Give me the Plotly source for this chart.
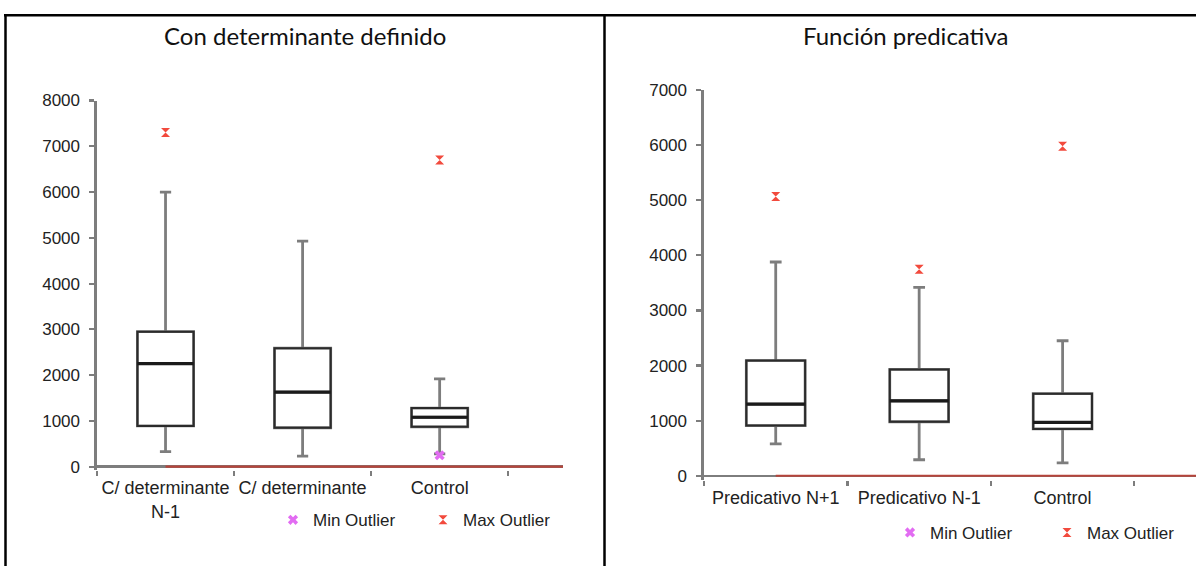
import plotly.graph_objects as go

W, H = 1196, 572

# ---------------- data ----------------
left_title = "Con determinante definido"
left_categories = ["C/ determinante<br>N-1", "C/ determinante", "Control"]
left_q1 = [890, 850, 870]
left_median = [2250, 1630, 1080]
left_q3 = [2950, 2590, 1280]
left_low = [330, 230, 280]
left_high = [6000, 4930, 1920]
left_max_outlier_cat = [0, 2]
left_max_outlier = [7300, 6700]
left_min_outlier_cat = [2]
left_min_outlier = [250]
left_yticks = [0, 1000, 2000, 3000, 4000, 5000, 6000, 7000, 8000]

right_title = "Función predicativa"
right_categories = ["Predicativo N+1", "Predicativo N-1", "Control"]
right_q1 = [910, 980, 850]
right_median = [1300, 1360, 970]
right_q3 = [2090, 1930, 1490]
right_low = [580, 290, 235]
right_high = [3880, 3420, 2450]
right_max_outlier_cat = [0, 1, 2]
right_max_outlier = [5070, 3750, 5980]
right_min_outlier_cat = []
right_min_outlier = []
right_yticks = [0, 1000, 2000, 3000, 4000, 5000, 6000, 7000]

baseline = [0, 0, 0, 0]

# ---------------- style ----------------
FONT = "Liberation Sans, Arial, sans-serif"
TITLE_FONT = "Lato, Open Sans, sans-serif"
AX_GRAY = "#7d7d7d"
BOX_DARK = "#2b2b2b"
RED_LINE = "#b6443b"
MAX_COL = "#f24a3d"
MIN_COL = "#e26cf2"


def fx(p):
    return p / W


def fy(p):
    return 1 - p / H


fig = go.Figure()


def add_panel(ax, leg_min, leg_max, cats, q1, med, q3, lo, hi, mx_cat, mx, mn_cat, mn):
    pos = list(range(len(cats)))
    xa, ya = "x" + ax, "y" + ax
    # whiskers (gray)
    fig.add_trace(go.Box(
        x=pos, q1=q1, median=med, q3=q3, lowerfence=lo, upperfence=hi,
        xaxis=xa, yaxis=ya, width=0.41, whiskerwidth=0.2,
        line=dict(color=AX_GRAY, width=2.8), fillcolor="rgba(0,0,0,0)",
        showlegend=False, hoverinfo="skip"))
    # box body (dark)
    fig.add_trace(go.Box(
        x=pos, q1=q1, median=med, q3=q3, lowerfence=q1, upperfence=q3,
        xaxis=xa, yaxis=ya, width=0.41, whiskerwidth=0,
        line=dict(color=BOX_DARK, width=2), fillcolor="rgba(255,255,255,0)",
        showlegend=False, hoverinfo="skip"))
    # median (thick)
    fig.add_trace(go.Box(
        x=pos, q1=med, median=med, q3=med, lowerfence=med, upperfence=med,
        xaxis=xa, yaxis=ya, width=0.41, whiskerwidth=0,
        line=dict(color="#1a1a1a", width=3.2), fillcolor="rgba(0,0,0,0)",
        showlegend=False, hoverinfo="skip"))
    # baseline red series
    fig.add_trace(go.Scatter(
        x=list(range(len(baseline))), y=baseline, mode="lines",
        xaxis=xa, yaxis=ya, line=dict(color=RED_LINE, width=2.2),
        showlegend=False, hoverinfo="skip"))
    # outliers
    fig.add_trace(go.Scatter(
        x=mn_cat if mn_cat else [None], y=mn if mn else [None], mode="markers",
        xaxis=xa, yaxis=ya, name="Min Outlier", legend=leg_min, showlegend=True,
        marker=dict(symbol="x", size=9, color=MIN_COL), cliponaxis=False))
    fig.add_trace(go.Scatter(
        x=mx_cat, y=mx, mode="markers",
        xaxis=xa, yaxis=ya, name="Max Outlier", legend=leg_max, showlegend=True,
        marker=dict(symbol="hourglass", size=9, color=MAX_COL), cliponaxis=False))


add_panel("", "legend", "legend2", left_categories, left_q1, left_median, left_q3,
          left_low, left_high, left_max_outlier_cat, left_max_outlier,
          left_min_outlier_cat, left_min_outlier)
add_panel("2", "legend3", "legend4", right_categories, right_q1, right_median,
          right_q3, right_low, right_high, right_max_outlier_cat,
          right_max_outlier, right_min_outlier_cat, right_min_outlier)

ytickfont = dict(family=FONT, size=17, color="#222")
xtickfont = dict(family=FONT, size=18, color="#222")


def xaxis_cfg(dom, cats, rng, anchor):
    return dict(domain=dom, range=rng, anchor=anchor, showline=False,
                showgrid=False, zeroline=False, tickmode="array",
                tickvals=list(range(len(cats))), ticktext=cats, ticks="",
                tickfont=xtickfont, ticklabelstandoff=5,
                minor=dict(tickmode="array", tickvals=[-0.5, 0.5, 1.5, 2.5],
                           ticks="outside", ticklen=5, tickwidth=2.2,
                           tickcolor=AX_GRAY, showgrid=False))


def yaxis_cfg(dom, rng, ticks, anchor):
    return dict(domain=dom, range=rng, anchor=anchor, showline=True,
                linecolor=AX_GRAY, linewidth=2.6, showgrid=False,
                zeroline=True, zerolinecolor=AX_GRAY, zerolinewidth=2.4,
                tickmode="array", tickvals=ticks, ticks="outside",
                ticklen=5, tickwidth=2.2, tickcolor=AX_GRAY,
                tickfont=ytickfont, ticklabelstandoff=6)


def legend_cfg(px_x, px_y):
    return dict(orientation="h", x=fx(px_x), y=fy(px_y), xanchor="left",
                yanchor="middle", font=dict(family=FONT, size=17, color="#222"),
                bgcolor="rgba(0,0,0,0)")


# left panel: y 8000 at px 94, 0 at px 470
l_top, l_zero = 94, 470
l_neg = 80
l_bot = l_zero + l_neg * (l_zero - l_top) / 8000
# right panel: y 7000 at px 83.3, 0 at px 479.3
r_top, r_zero = 83.3, 479.3
r_neg = 70
r_bot = r_zero + r_neg * (r_zero - r_top) / 7000

fig.update_layout(
    width=W, height=H, margin=dict(l=0, r=0, t=0, b=0),
    paper_bgcolor="white", plot_bgcolor="white", boxmode="overlay",
    xaxis=xaxis_cfg([fx(97), fx(563)], left_categories, [-0.5, 2.9], "y"),
    yaxis=yaxis_cfg([fy(l_bot), fy(l_top)], [-l_neg, 8000], left_yticks, "x"),
    xaxis2=xaxis_cfg([fx(704), 1.0], right_categories, [-0.5, 2.93], "y2"),
    yaxis2=yaxis_cfg([fy(r_bot), fy(r_top)], [-r_neg, 7000], right_yticks, "x2"),
    legend=legend_cfg(273, 525),
    legend2=legend_cfg(423, 525),
    legend3=legend_cfg(890, 538),
    legend4=legend_cfg(1047, 538),
    showlegend=True,
)

# titles
fig.add_annotation(text=left_title, x=fx(305), y=fy(27), xref="paper", yref="paper",
                   showarrow=False, xanchor="center", yanchor="middle",
                   font=dict(family=TITLE_FONT, size=24, color="#111"))
fig.add_annotation(text=right_title, x=fx(905), y=fy(27), xref="paper", yref="paper",
                   showarrow=False, xanchor="center", yanchor="middle",
                   font=dict(family=TITLE_FONT, size=24, color="#111"))

# table borders
border = dict(color="black", width=2.5)
fig.add_shape(type="line", xref="paper", yref="paper", x0=fx(4), x1=1.0,
              y0=fy(6.5), y1=fy(6.5), line=border)
fig.add_shape(type="line", xref="paper", yref="paper", x0=fx(5.5), x1=fx(5.5),
              y0=fy(5.5), y1=0, line=border)
fig.add_shape(type="line", xref="paper", yref="paper", x0=fx(604.5), x1=fx(604.5),
              y0=fy(5.5), y1=0, line=border)

fig.write_html(
    "out.html",
    config={"displayModeBar": False, "staticPlot": True},
    post_script="document.body.style.margin='0';document.body.style.overflow='hidden';",
)
